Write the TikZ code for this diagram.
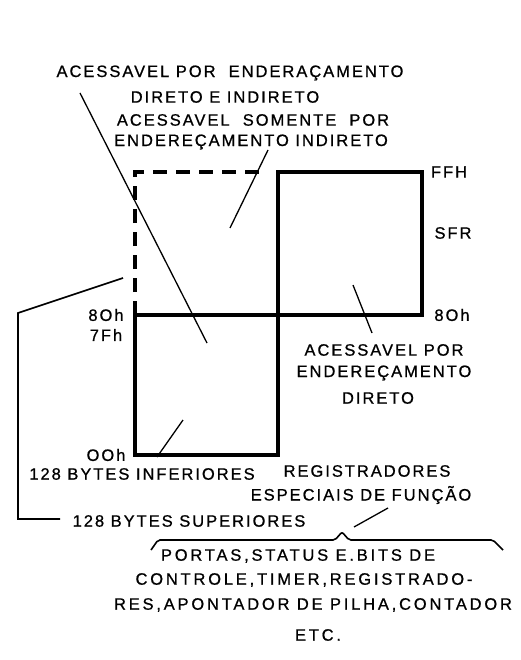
\documentclass[tikz,border=0pt]{standalone}
\usepackage{fontspec}
\newfontfamily\lblfont[LetterSpace=12,FakeBold=0.8]{Liberation Sans}
\newfontfamily\lblfontw[LetterSpace=17,FakeBold=0.8]{Liberation Sans}
\begin{document}
\begin{tikzpicture}[x=1pt,y=-1pt,
  lbl/.style={font=\lblfont\fontsize{16.5}{18}\selectfont, inner sep=0pt, anchor=center},
  lblw/.style={font=\lblfontw\fontsize{16.5}{18}\selectfont, inner sep=0pt, anchor=center},
  box/.style={line width=3.8pt},
  dbox/.style={line width=3.8pt, dash pattern=on 14pt off 9pt},
  lead/.style={line width=1.3pt},
  thinline/.style={line width=1.6pt}]
\useasboundingbox (0,0) rectangle (520,660);
% corner coordinates
\coordinate (LTL) at (135,172);
\coordinate (LTR) at (262,172);
\coordinate (M) at (135,315);
\coordinate (C) at (278,315);
\coordinate (BL) at (135,455);
\coordinate (BR) at (278,455);
\coordinate (RT) at (278,172);
\coordinate (RTR) at (422,172);
\coordinate (RBR) at (422,315);
% boxes
\draw[dbox] (M) -- (LTL) -- (LTR);
\draw[box] (M) rectangle (BR);
\draw[box] (C) rectangle (RTR);
% labels
\node[lbl] (t1) at (230,73) {ACESSAVEL POR\ \ ENDERAÇAMENTO};
\node[lbl] (t2) at (225,97) {DIRETO E INDIRETO};
\node[lbl] (t3) at (253,120) {ACESSAVEL\ \ SOMENTE\ \ POR};
\node[lbl] (t4) at (251,142) {ENDEREÇAMENTO INDIRETO};
\node[lbl] (ffh) at (449,172) {FFH};
\node[lbl] (sfr) at (453,233) {SFR};
\node[lbl] (r80) at (452,315) {8Oh};
\node[lbl] (l80) at (106,315) {8Oh};
\node[lbl] (l7f) at (106,335) {7Fh};
\node[lbl] (l00) at (106,455) {OOh};
\node[lbl] (d1) at (384,350) {ACESSAVEL POR};
\node[lbl] (d2) at (384,373) {ENDEREÇAMENTO};
\node[lbl] (d3) at (378,398) {DIRETO};
\node[lbl] (inf) at (142,474) {128 BYTES INFERIORES};
\node[lbl] (reg1) at (367,471) {REGISTRADORES};
\node[lbl] (reg2) at (361,495) {ESPECIAIS DE FUNÇÃO};
\node[lbl] (sup) at (189,521) {128 BYTES SUPERIORES};
\node[lblw] (p1) at (298,556) {PORTAS,STATUS E.BITS DE};
\node[lblw] (p2) at (304,580) {CONTROLE,TIMER,REGISTRADO-};
\node[lblw] (p3) at (313,605) {RES,APONTADOR DE PILHA,CONTADOR};
\node[lblw] (p4) at (318,635) {ETC.};
% leader lines
\coordinate (a1) at (80,93);
\coordinate (a2) at (207,343);
\draw[lead] (a1) -- (a2);
\coordinate (b1) at (268,150);
\coordinate (b2) at (230,228);
\draw[lead] (b1) -- (b2);
\coordinate (c1) at (353,285);
\coordinate (c2) at (372,333);
\draw[lead] (c1) -- (c2);
\coordinate (e1) at (183,420);
\coordinate (e2) at (157,457);
\draw[lead] (e1) -- (e2);
\coordinate (f1) at (388,508);
\coordinate (f2) at (354,527);
\draw[lead] (f1) -- (f2);
% upper bytes bracket
\coordinate (g1) at (123,278);
\coordinate (g2) at (18,313);
\coordinate (g3) at (18,519);
\coordinate (g4) at (60,519);
\draw[thinline] (g1) -- (g2) -- (g3) -- (g4);
% brace
\coordinate (h1) at (151,550);
\coordinate (h2) at (158,540);
\coordinate (h3) at (335,540);
\coordinate (h4) at (342,532);
\coordinate (h5) at (349,540);
\coordinate (h6) at (493,540);
\coordinate (h7) at (503,550);
\draw[thinline, rounded corners=2pt] (h1) -- (h2) -- (h3) -- (h4) -- (h5) -- (h6) -- (h7);
\end{tikzpicture}
\end{document}
